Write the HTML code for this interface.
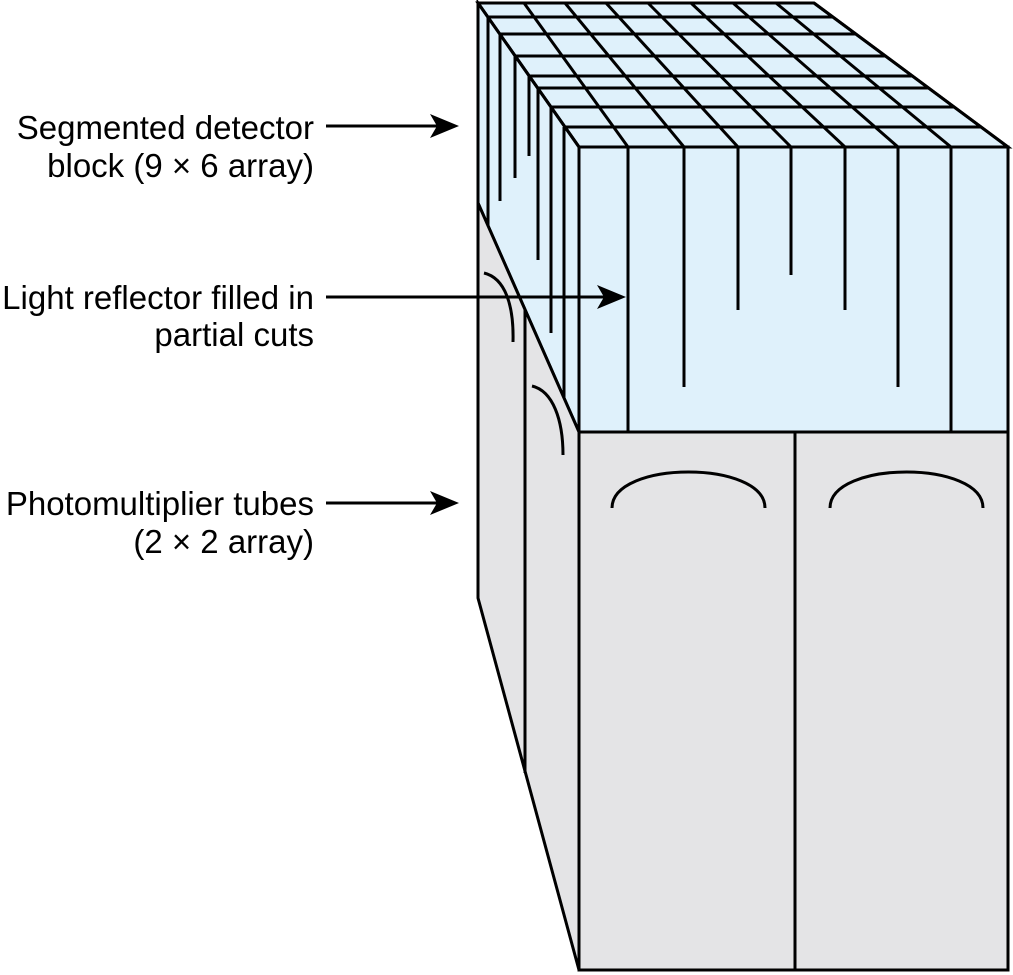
<!DOCTYPE html>
<html><head><meta charset="utf-8"><style>
html,body{margin:0;padding:0;background:#fff;}
svg{display:block;}
text{font-family:"Liberation Sans",Arial,sans-serif;font-size:33px;fill:#000;}
</style></head><body>
<svg id="s" width="1013" height="975" viewBox="0 0 1013 975" xmlns="http://www.w3.org/2000/svg">
<g stroke="#000" stroke-width="3" stroke-linejoin="miter">
<polygon points="478,3 814,3 1008,147 579,147" fill="#dff1fb"/>
<rect x="579" y="147" width="429" height="285" fill="#dff1fb"/>
<polygon points="478,3 579,147 579,432 478,203" fill="#dff1fb"/>
<polygon points="478,203 579,432 579,970 478,598" fill="#e4e4e6"/>
<rect x="579" y="432" width="429" height="538" fill="#e4e4e6"/>
<line x1="795" y1="432" x2="795" y2="970"/>
<line x1="525" y1="310" x2="525" y2="773"/>
</g>
<g id="grid" stroke="#000" stroke-width="3" fill="none"></g>
<g stroke="#000" stroke-width="3" fill="none">
<line x1="628" y1="147" x2="628" y2="432"/>
<line x1="684" y1="147" x2="684" y2="387"/>
<line x1="738" y1="147" x2="738" y2="310"/>
<line x1="791" y1="147" x2="791" y2="275"/>
<line x1="845" y1="147" x2="845" y2="310"/>
<line x1="898" y1="147" x2="898" y2="387"/>
<line x1="951" y1="147" x2="951" y2="432"/>
<line x1="488" y1="17" x2="488" y2="225"/>
<line x1="500" y1="34" x2="500" y2="201"/>
<line x1="515" y1="56" x2="515" y2="178"/>
<line x1="529" y1="76" x2="529" y2="156"/>
<line x1="538" y1="88" x2="538" y2="260"/>
<line x1="551" y1="107" x2="551" y2="333"/>
<line x1="564" y1="127" x2="564" y2="398"/>
<path d="M612,508 C612,460 765,460 765,508"/>
<path d="M830,508 C830,460 983,460 983,508"/>
<path d="M484,273 C505,278 514,305 513,342"/>
<path d="M532,386 C553,391 563,420 563,455"/>
<line x1="326" y1="126" x2="440" y2="126"/>
<line x1="326" y1="297" x2="605" y2="297"/>
<line x1="326" y1="503" x2="440" y2="503"/>
</g>
<g fill="#000">
<path d="M459,126 L430,114 L437,126 L430,138 Z"/>
<path d="M626,297 L597,285 L604,297 L597,309 Z"/>
<path d="M459,503 L430,491 L437,503 L430,515 Z"/>
</g>
<text x="314" y="139" text-anchor="end">Segmented detector</text>
<text x="314" y="177" text-anchor="end">block (9 × 6 array)</text>
<text x="314" y="309" text-anchor="end">Light reflector filled in</text>
<text x="314" y="346" text-anchor="end">partial cuts</text>
<text x="314" y="515" text-anchor="end">Photomultiplier tubes</text>
<text x="314" y="553" text-anchor="end">(2 × 2 array)</text>
</svg>
<script>
(function(){
var g=document.getElementById('grid'),ns="http://www.w3.org/2000/svg";
function L(a,b,c,d){var l=document.createElementNS(ns,'line');l.setAttribute('x1',a);l.setAttribute('y1',b);l.setAttribute('x2',c);l.setAttribute('y2',d);g.appendChild(l);}
var ys=[3,17,34,56,76,88,107,127,147];
function lx(y){return 478+(y-3)/144*101;}
function rx(y){return 814+(y-3)/144*194;}
ys.forEach(function(y){L(lx(y),y,rx(y),y);});
var bx=[478,524,565,606,648,691,733,776,814];
var fx=[579,628,684,738,791,845,898,951,1008];
for(var i=0;i<9;i++)L(bx[i],3,fx[i],147);
})();
</script>
</body></html>
